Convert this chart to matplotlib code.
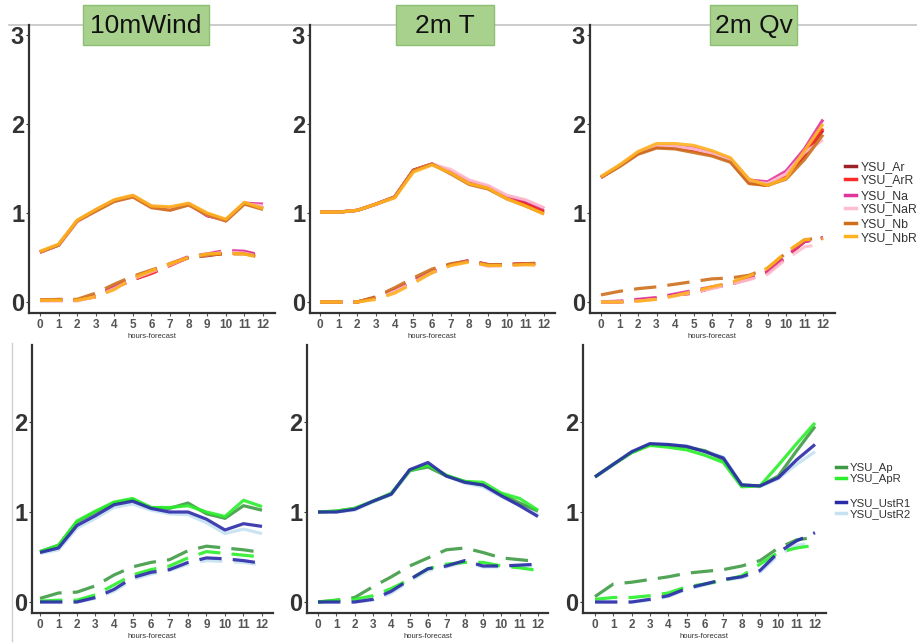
import numpy as np
import matplotlib
matplotlib.use("Agg")
import matplotlib.pyplot as plt
from matplotlib.lines import Line2D
from matplotlib.patches import Rectangle

plt.rcParams['font.family'] = ['Liberation Sans', 'DejaVu Sans']

hours = list(range(13))

# ---- top row : YSU_A / YSU_N runs ----
wind_top_solid = {
    'YSU_Ar':  [0.56, 0.64, 0.91, 1.03, 1.14, 1.19, 1.07, 1.05, 1.10, 0.97, 0.92, 1.11, 1.06],
    'YSU_ArR': [0.56, 0.64, 0.91, 1.03, 1.14, 1.19, 1.07, 1.05, 1.10, 0.99, 0.92, 1.11, 1.05],
    'YSU_Na':  [0.56, 0.64, 0.91, 1.03, 1.14, 1.19, 1.07, 1.04, 1.10, 0.97, 0.92, 1.11, 1.10],
    'YSU_NaR': [0.56, 0.64, 0.90, 1.02, 1.13, 1.18, 1.06, 1.04, 1.09, 0.98, 0.91, 1.10, 1.08],
    'YSU_Nb':  [0.56, 0.64, 0.91, 1.02, 1.13, 1.18, 1.06, 1.03, 1.09, 0.98, 0.91, 1.10, 1.04],
    'YSU_NbR': [0.57, 0.65, 0.92, 1.04, 1.15, 1.20, 1.08, 1.07, 1.11, 1.00, 0.93, 1.12, 1.05],
}
wind_top_dash = {
    'YSU_Ar':  [0.02, 0.02, 0.02, 0.06, 0.16, 0.25, 0.33, 0.42, 0.50, 0.52, 0.55, 0.56, 0.52],
    'YSU_ArR': [0.02, 0.02, 0.02, 0.06, 0.16, 0.25, 0.32, 0.41, 0.50, 0.53, 0.55, 0.55, 0.51],
    'YSU_Na':  [0.02, 0.02, 0.02, 0.07, 0.17, 0.27, 0.34, 0.43, 0.51, 0.54, 0.58, 0.57, 0.52],
    'YSU_NaR': [0.01, 0.01, 0.01, 0.06, 0.15, 0.26, 0.34, 0.42, 0.50, 0.53, 0.56, 0.55, 0.50],
    'YSU_Nb':  [0.02, 0.03, 0.03, 0.10, 0.20, 0.29, 0.36, 0.43, 0.50, 0.53, 0.54, 0.54, 0.50],
    'YSU_NbR': [0.02, 0.02, 0.02, 0.06, 0.14, 0.27, 0.35, 0.43, 0.50, 0.54, 0.55, 0.54, 0.49],
}
t2_top_solid = {
    'YSU_Ar':  [1.01, 1.01, 1.03, 1.10, 1.18, 1.48, 1.55, 1.46, 1.34, 1.29, 1.18, 1.11, 1.02],
    'YSU_ArR': [1.01, 1.01, 1.03, 1.10, 1.18, 1.48, 1.55, 1.45, 1.33, 1.28, 1.17, 1.10, 1.01],
    'YSU_Na':  [1.01, 1.01, 1.03, 1.10, 1.18, 1.48, 1.55, 1.47, 1.36, 1.30, 1.19, 1.14, 1.05],
    'YSU_NaR': [1.01, 1.01, 1.03, 1.10, 1.18, 1.47, 1.55, 1.49, 1.37, 1.31, 1.20, 1.15, 1.06],
    'YSU_Nb':  [1.01, 1.01, 1.03, 1.10, 1.18, 1.48, 1.55, 1.44, 1.32, 1.27, 1.16, 1.08, 0.99],
    'YSU_NbR': [1.01, 1.01, 1.03, 1.10, 1.17, 1.46, 1.54, 1.45, 1.33, 1.28, 1.16, 1.08, 0.99],
}
t2_top_dash = {
    'YSU_Ar':  [0.00, 0.00, 0.00, 0.05, 0.13, 0.24, 0.33, 0.42, 0.46, 0.41, 0.42, 0.43, 0.43],
    'YSU_ArR': [0.00, 0.00, 0.00, 0.05, 0.13, 0.24, 0.34, 0.42, 0.46, 0.42, 0.42, 0.43, 0.43],
    'YSU_Na':  [0.00, 0.00, 0.00, 0.05, 0.13, 0.24, 0.34, 0.42, 0.47, 0.42, 0.42, 0.43, 0.42],
    'YSU_NaR': [0.00, 0.00, 0.00, 0.04, 0.12, 0.22, 0.33, 0.41, 0.46, 0.40, 0.41, 0.42, 0.42],
    'YSU_Nb':  [0.00, 0.00, 0.00, 0.06, 0.16, 0.27, 0.37, 0.43, 0.46, 0.42, 0.42, 0.43, 0.44],
    'YSU_NbR': [0.00, 0.00, 0.00, 0.03, 0.10, 0.21, 0.33, 0.41, 0.45, 0.41, 0.41, 0.42, 0.41],
}
qv_top_solid = {
    'YSU_Ar':  [1.40, 1.53, 1.67, 1.74, 1.73, 1.70, 1.66, 1.58, 1.34, 1.31, 1.41, 1.64, 1.93],
    'YSU_ArR': [1.40, 1.53, 1.67, 1.75, 1.74, 1.71, 1.66, 1.59, 1.35, 1.31, 1.42, 1.66, 1.95],
    'YSU_Na':  [1.40, 1.53, 1.68, 1.76, 1.75, 1.73, 1.68, 1.60, 1.37, 1.35, 1.47, 1.72, 2.05],
    'YSU_NaR': [1.40, 1.53, 1.68, 1.76, 1.75, 1.72, 1.67, 1.59, 1.36, 1.33, 1.44, 1.68, 1.82],
    'YSU_Nb':  [1.40, 1.52, 1.66, 1.73, 1.72, 1.68, 1.64, 1.57, 1.33, 1.31, 1.38, 1.60, 1.88],
    'YSU_NbR': [1.41, 1.54, 1.69, 1.78, 1.78, 1.76, 1.70, 1.62, 1.38, 1.31, 1.39, 1.70, 2.00],
}
qv_top_dash = {
    'YSU_Ar':  [0.00, 0.00, 0.02, 0.04, 0.08, 0.10, 0.16, 0.20, 0.26, 0.33, 0.50, 0.68, 0.72],
    'YSU_ArR': [0.00, 0.00, 0.02, 0.04, 0.08, 0.10, 0.16, 0.20, 0.26, 0.34, 0.51, 0.68, 0.72],
    'YSU_Na':  [0.00, 0.01, 0.03, 0.05, 0.09, 0.13, 0.17, 0.21, 0.27, 0.34, 0.52, 0.68, 0.72],
    'YSU_NaR': [0.00, 0.00, 0.01, 0.03, 0.07, 0.11, 0.15, 0.20, 0.25, 0.31, 0.48, 0.62, 0.65],
    'YSU_Nb':  [0.08, 0.12, 0.15, 0.17, 0.20, 0.23, 0.26, 0.27, 0.30, 0.38, 0.55, 0.70, 0.72],
    'YSU_NbR': [0.00, 0.00, 0.01, 0.03, 0.07, 0.12, 0.17, 0.22, 0.29, 0.38, 0.56, 0.70, 0.71],
}

# ---- bottom row : YSU_Ap / YSU_Ust runs ----
wind_bot_solid = {
    'YSU_Ap':    [0.56, 0.63, 0.89, 1.00, 1.10, 1.14, 1.05, 1.04, 1.10, 0.98, 0.93, 1.07, 1.02],
    'YSU_ApR':   [0.56, 0.63, 0.90, 1.01, 1.11, 1.15, 1.05, 1.05, 1.07, 1.00, 0.95, 1.13, 1.06],
    'YSU_UstR1': [0.55, 0.60, 0.85, 0.96, 1.08, 1.12, 1.04, 1.00, 1.00, 0.92, 0.80, 0.87, 0.84],
    'YSU_UstR2': [0.54, 0.58, 0.82, 0.93, 1.05, 1.09, 1.02, 0.98, 0.97, 0.88, 0.76, 0.81, 0.76],
}
wind_bot_dash = {
    'YSU_Ap':    [0.04, 0.10, 0.11, 0.18, 0.30, 0.39, 0.44, 0.47, 0.57, 0.62, 0.60, 0.58, 0.55],
    'YSU_ApR':   [0.01, 0.02, 0.02, 0.08, 0.19, 0.30, 0.36, 0.40, 0.49, 0.56, 0.54, 0.52, 0.50],
    'YSU_UstR1': [0.00, 0.00, 0.00, 0.05, 0.14, 0.27, 0.33, 0.36, 0.44, 0.49, 0.48, 0.46, 0.43],
    'YSU_UstR2': [0.00, 0.00, 0.00, 0.04, 0.12, 0.25, 0.31, 0.35, 0.42, 0.46, 0.45, 0.44, 0.41],
}
t2_bot_solid = {
    'YSU_Ap':    [1.00, 1.01, 1.04, 1.12, 1.20, 1.46, 1.50, 1.40, 1.34, 1.30, 1.20, 1.10, 1.01],
    'YSU_ApR':   [1.00, 1.01, 1.04, 1.12, 1.21, 1.46, 1.52, 1.41, 1.34, 1.33, 1.21, 1.15, 1.02],
    'YSU_UstR1': [1.00, 1.00, 1.03, 1.12, 1.20, 1.47, 1.55, 1.40, 1.33, 1.30, 1.18, 1.07, 0.95],
    'YSU_UstR2': [1.00, 1.00, 1.02, 1.11, 1.19, 1.45, 1.53, 1.40, 1.32, 1.28, 1.17, 1.08, 0.97],
}
t2_bot_dash = {
    'YSU_Ap':    [0.00, 0.02, 0.05, 0.17, 0.28, 0.40, 0.49, 0.58, 0.60, 0.55, 0.49, 0.47, 0.45],
    'YSU_ApR':   [0.00, 0.02, 0.03, 0.07, 0.15, 0.25, 0.37, 0.42, 0.44, 0.44, 0.40, 0.38, 0.35],
    'YSU_UstR1': [0.00, 0.00, 0.00, 0.03, 0.12, 0.25, 0.37, 0.40, 0.46, 0.40, 0.40, 0.41, 0.42],
    'YSU_UstR2': [0.00, 0.00, 0.00, 0.02, 0.10, 0.23, 0.35, 0.39, 0.44, 0.39, 0.39, 0.40, 0.40],
}
qv_bot_solid = {
    'YSU_Ap':    [1.39, 1.53, 1.66, 1.75, 1.74, 1.72, 1.68, 1.58, 1.30, 1.29, 1.40, 1.68, 1.95],
    'YSU_ApR':   [1.39, 1.53, 1.66, 1.74, 1.72, 1.69, 1.63, 1.55, 1.28, 1.29, 1.52, 1.76, 1.99],
    'YSU_UstR1': [1.39, 1.53, 1.67, 1.76, 1.75, 1.73, 1.67, 1.60, 1.30, 1.29, 1.38, 1.58, 1.75],
    'YSU_UstR2': [1.39, 1.52, 1.66, 1.75, 1.75, 1.73, 1.68, 1.61, 1.31, 1.28, 1.37, 1.53, 1.67],
}
qv_bot_dash = {
    'YSU_Ap':    [0.06, 0.20, 0.22, 0.25, 0.28, 0.32, 0.34, 0.36, 0.40, 0.46, 0.60, 0.69, 0.72],
    'YSU_ApR':   [0.03, 0.05, 0.05, 0.07, 0.10, 0.17, 0.20, 0.24, 0.29, 0.42, 0.55, 0.60, 0.63],
    'YSU_UstR1': [0.00, 0.00, 0.00, 0.03, 0.07, 0.15, 0.20, 0.25, 0.28, 0.35, 0.55, 0.68, 0.77],
    'YSU_UstR2': [0.00, 0.00, 0.00, 0.02, 0.06, 0.14, 0.19, 0.24, 0.27, 0.33, 0.52, 0.63, 0.66],
}

colors = {
    'YSU_Ar': '#9b2226', 'YSU_ArR': '#ff2a2a', 'YSU_Na': '#e0359b', 'YSU_NaR': '#ffbfd0',
    'YSU_Nb': '#cf6f1c', 'YSU_NbR': '#ffb21f',
    'YSU_Ap': '#3f9a45', 'YSU_ApR': '#2bef2b', 'YSU_UstR1': '#2b2ba8', 'YSU_UstR2': '#c6e2f2',
}
headers = ['10mWind', '2m T', '2m Qv']

W, H = 917, 643
fig = plt.figure(figsize=(W / 100, H / 100), dpi=100)

# pixel layout: (left, right, x of tick 0, x of tick 12)
top_cols = [(29, 275, 40, 263), (310, 555, 320, 544), (590, 835, 601, 823)]
bot_cols = [(32, 273, 40, 262), (307, 548, 318, 538), (583, 826, 595, 815)]
top_rows = (25, 313, 302, 213)  # top, bottom, y of 0, y of 1
bot_rows = (345, 613, 602, 512)

# grey slide line behind the header boxes
fig.add_artist(Line2D([9 / W, 1.0], [1 - 25 / H, 1 - 25 / H], color='#c4c4c4', lw=1.2, zorder=0))
fig.add_artist(Line2D([12 / W, 12 / W], [1 - 343 / H, 1 - 641 / H], color='#d0d0d0', lw=1.0, zorder=0))


def make_ax(col, row, yticks):
    left, right, t0, t12 = col
    top, bottom, y0, y1 = row
    ax = fig.add_axes([left / W, 1 - bottom / H, (right - left) / W, (bottom - top) / H])
    sx = (t12 - t0) / 12.0
    sy = y0 - y1
    ax.set_xlim((left - t0) / sx, (right - t0) / sx)
    ax.set_ylim((y0 - bottom) / sy, (y0 - top) / sy)
    ax.patch.set_alpha(0)
    for s in ['top', 'right']:
        ax.spines[s].set_visible(False)
    for s in ['left', 'bottom']:
        ax.spines[s].set_color('#333333')
        ax.spines[s].set_linewidth(1.6)
    ax.set_xticks(hours)
    ax.set_yticks(yticks)
    ax.tick_params(axis='x', length=2.5, width=0.8, color='#555555', labelsize=8.5,
                   labelcolor='#555555', pad=2)
    ax.tick_params(axis='y', length=2.5, width=0.8, color='#333333', labelsize=17,
                   labelcolor='#333333', pad=1)
    for lab in ax.get_xticklabels() + ax.get_yticklabels():
        lab.set_fontweight('bold')
    ax.set_xlabel('hours-forecast', fontsize=5.5, color='#333333', labelpad=1)
    return ax


def draw(ax, solid, dash, order):
    for name in order:
        ax.plot(hours, solid[name], color=colors[name], lw=2.3, alpha=0.9,
                solid_capstyle='butt')
    for name in order:
        ax.plot(hours, dash[name], color=colors[name], lw=2.3, alpha=0.9,
                dashes=(7, 3.5))


top_order = ['YSU_Ar', 'YSU_ArR', 'YSU_Na', 'YSU_NaR', 'YSU_Nb', 'YSU_NbR']
bot_order = ['YSU_UstR2', 'YSU_Ap', 'YSU_ApR', 'YSU_UstR1']

top_data = [(wind_top_solid, wind_top_dash), (t2_top_solid, t2_top_dash), (qv_top_solid, qv_top_dash)]
bot_data = [(wind_bot_solid, wind_bot_dash), (t2_bot_solid, t2_bot_dash), (qv_bot_solid, qv_bot_dash)]

for i in range(3):
    ax = make_ax(top_cols[i], top_rows, [0, 1, 2, 3])
    draw(ax, top_data[i][0], top_data[i][1], top_order)
    ax = make_ax(bot_cols[i], bot_rows, [0, 1, 2])
    draw(ax, bot_data[i][0], bot_data[i][1], bot_order)

# green header boxes
boxes = [(83, 209), (396, 494), (710, 797)]
for (x0, x1), txt in zip(boxes, headers):
    fig.add_artist(Rectangle((x0 / W, 1 - 45 / H), (x1 - x0) / W, 40 / H, transform=fig.transFigure,
                             facecolor='#a9d18e', edgecolor='#8cbf72', lw=1.0, zorder=3))
    fig.text((x0 + x1) / 2 / W, 1 - 26 / H, txt, fontsize=19, color='#111111',
             ha='center', va='center', zorder=4)

# legends, one per pair of runs
legend_groups = [
    (['YSU_Ar', 'YSU_ArR'], 173.5, 845, 8.8), (['YSU_Na', 'YSU_NaR'], 202.5, 845, 8.8),
    (['YSU_Nb', 'YSU_NbR'], 231, 845, 8.8),
    (['YSU_Ap', 'YSU_ApR'], 473.5, 836, 8.2), (['YSU_UstR1', 'YSU_UstR2'], 508.5, 836, 8.2),
]
for names, yc, xl, fs in legend_groups:
    handles = [Line2D([], [], color=colors[n], lw=2.5) for n in names]
    leg = fig.legend(handles, names, loc='center left', bbox_to_anchor=(xl / W, 1 - yc / H),
                     frameon=False, fontsize=fs, handlelength=0.9, handletextpad=0.35,
                     labelspacing=0.1, borderpad=0, borderaxespad=0)
    for t in leg.get_texts():
        t.set_color('#333333')

fig.savefig('out.png', dpi=100)
